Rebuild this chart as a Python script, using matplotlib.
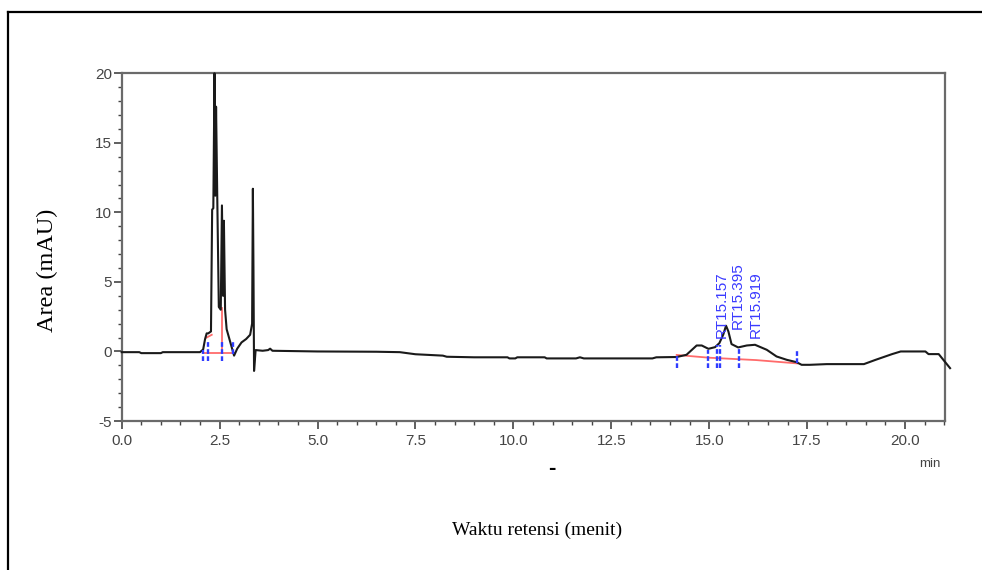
import matplotlib.pyplot as plt
from matplotlib.lines import Line2D
from matplotlib.ticker import MultipleLocator

plt.rcParams["axes.unicode_minus"] = False

# chromatogram trace (min, mAU)
time = [0.0, 0.45, 0.5, 1.0, 1.05, 1.5, 2.0, 2.08, 2.13, 2.17, 2.21, 2.28, 2.31, 2.34,
        2.37, 2.39, 2.41, 2.44, 2.48, 2.53, 2.56, 2.59, 2.61, 2.64, 2.68, 2.76, 2.87,
        2.95, 3.06, 3.18, 3.28, 3.33, 3.35, 3.365, 3.38, 3.42, 3.6, 3.74, 3.79, 3.85,
        5.0, 6.5, 7.1, 7.5, 8.2, 8.3, 9.0, 9.85, 9.9, 10.05, 10.1, 10.8, 10.85, 11.6,
        11.7, 11.8, 13.55, 13.65, 14.17, 14.42, 14.68, 14.81, 14.98, 15.15, 15.26,
        15.36, 15.43, 15.49, 15.57, 15.74, 15.96, 16.17, 16.47, 16.72, 16.98, 17.23,
        17.36, 17.57, 18.0, 18.95, 19.25, 19.67, 19.89, 20.52, 20.6, 20.86, 21.15]
signal = [-0.05, -0.05, -0.12, -0.12, -0.05, -0.05, -0.05, 0.14, 0.9, 1.3, 1.3, 1.44, 10.2, 10.3,
          20.0, 11.2, 17.6, 11.2, 3.2, 3.0, 10.5, 4.0, 9.4, 3.0, 1.6, 0.8, -0.3,
          0.2, 0.65, 0.9, 1.2, 2.0, 11.7, 5.8, -1.4, 0.1, 0.05, 0.1, 0.2, 0.05,
          0.0, -0.02, -0.05, -0.2, -0.3, -0.38, -0.42, -0.42, -0.5, -0.5, -0.42, -0.42, -0.5, -0.5,
          -0.42, -0.5, -0.5, -0.42, -0.4, -0.24, 0.43, 0.43, 0.19, 0.31, 0.6,
          1.22, 1.85, 1.44, 0.53, 0.29, 0.43, 0.48, 0.12, -0.36, -0.6, -0.77,
          -0.96, -0.96, -0.91, -0.91, -0.6, -0.19, 0.0, 0.0, -0.19, -0.19, -1.2]

# integration baselines (red)
base_left_t = [2.08, 2.85]
base_left_y = [-0.12, -0.12]
drop_t = [2.55, 2.55]
drop_y = [-0.12, 3.1]
shoulder_t = [2.17, 2.30]
shoulder_y = [1.0, 1.2]
base_right_t = [14.17, 15.0, 16.2, 17.25]
base_right_y = [-0.25, -0.45, -0.62, -0.86]

# peak start/end markers (blue): position, top, bottom
mark_t = [2.08, 2.20, 2.55, 2.85, 14.18, 14.97, 15.20, 15.28, 15.76, 17.25]
mark_top = [0.12, 0.72, 0.72, 0.65, -0.24, 0.12, 0.5, 0.5, 0.2, 0.0]
mark_bot = [-0.72, -0.72, -0.72, -0.15, -1.2, -1.2, -1.2, -1.2, -1.2, -0.84]

# retention time labels
rt_labels = ["RT15.157", "RT15.395", "RT15.919"]
rt_x = [15.33, 15.73, 16.19]
rt_y = [0.94, 1.65, 0.94]

fig = plt.figure(figsize=(9.82, 5.70), dpi=100)
ax = fig.add_axes([0.1239, 0.2614, 0.9623 - 0.1239, 0.8714 - 0.2614])
ax.set_facecolor("none")

ax.plot(time, signal, color="#1a1a1a", lw=1.5, clip_on=False, zorder=3)
red = "#ff6b6b"
ax.plot(base_left_t, base_left_y, color=red, lw=1.3, zorder=2)
ax.plot(drop_t, drop_y, color=red, lw=1.3, zorder=2)
ax.plot(shoulder_t, shoulder_y, color=red, lw=1.3, zorder=2)
ax.plot(base_right_t, base_right_y, color=red, lw=1.3, zorder=2)
ax.vlines(mark_t, mark_bot, mark_top, colors="#2f3cff", lw=1.7,
          linestyles=(0, (2, 1)), zorder=4)

for lab, x, y in zip(rt_labels, rt_x, rt_y):
    ax.text(x, y, lab, rotation=90, ha="center", va="bottom", color="#3a3aff",
            fontsize=11, family="Liberation Sans", zorder=5)

ax.set_xlim(0, 21.02)
ax.set_ylim(-5, 20)
ax.xaxis.set_major_locator(MultipleLocator(2.5))
ax.xaxis.set_minor_locator(MultipleLocator(0.5))
ax.yaxis.set_major_locator(MultipleLocator(5))
ax.yaxis.set_minor_locator(MultipleLocator(1))
ax.set_xticks([0, 2.5, 5, 7.5, 10, 12.5, 15, 17.5, 20])
ax.set_xticklabels(["0.0", "2.5", "5.0", "7.5", "10.0", "12.5", "15.0", "17.5", "20.0"])
ax.tick_params(which="major", length=6, width=1.2, color="#444444", pad=3,
               labelsize=11, labelcolor="#444444")
ax.tick_params(which="minor", length=3, width=1.0, color="#444444")
ax.tick_params(axis="y", pad=1)
for lbl in ax.get_xticklabels() + ax.get_yticklabels():
    lbl.set_family("Liberation Sans")
for s in ax.spines.values():
    s.set_color("#6a6a6a")
    s.set_linewidth(1.6)

fig.text(930 / 982, 1 - 464 / 570, "min", ha="center", va="center", fontsize=9.5,
         color="#444444", family="Liberation Sans")
fig.text(47 / 982, 1 - 270 / 570, "Area (mAU)", rotation=90, ha="center", va="center",
         fontsize=17.5, family="Liberation Serif")
fig.text(537 / 982, 1 - 530 / 570, "Waktu retensi (menit)", ha="center", va="center",
         fontsize=14, family="Liberation Serif")
fig.text(552 / 982, 1 - 468 / 570, "-", ha="center", va="center", fontsize=16,
         fontweight="bold", family="Liberation Sans")

# page frame
fig.add_artist(Line2D([8 / 982, 8 / 982], [0, 1 - 12 / 570], color="black", lw=1.6))
fig.add_artist(Line2D([8 / 982, 1], [1 - 12 / 570, 1 - 12 / 570], color="black", lw=1.6))

fig.savefig("out.png", dpi=100)
